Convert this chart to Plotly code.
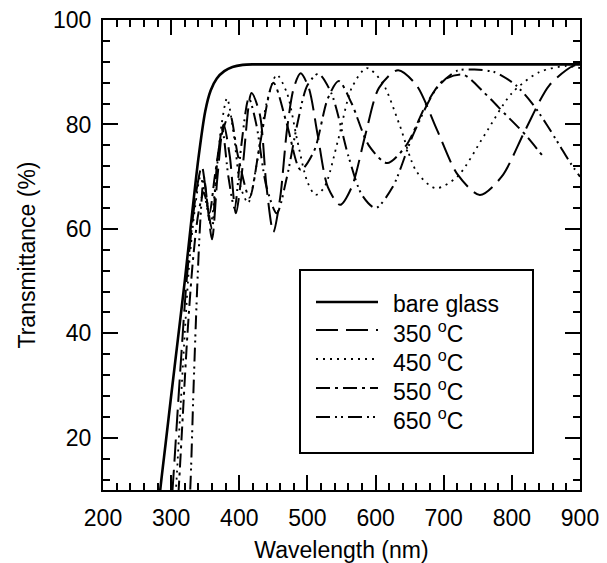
import plotly.graph_objects as go

# Transmittance spectra: bare glass substrate and films annealed at four temperatures
bare_wl = [280, 284, 292, 300, 310, 320, 330, 340, 350, 358, 367, 378, 390, 405, 420, 900]
bare_t = [4, 10, 19, 28, 39, 50, 62, 73.5, 82.5, 86.5, 88.8, 90.2, 91.0, 91.4, 91.5, 91.5]

t350_wl = [298, 302, 308, 315, 322, 330, 338, 345, 352, 360, 368, 377, 386, 395, 405, 418,
           430, 440, 450, 460, 470, 480, 490, 502, 515, 530, 548, 565, 585, 605, 633, 660,
           690, 720, 753, 785, 820, 855, 890, 900]
t350_t = [4, 10, 22, 36, 49, 60, 68, 72, 66, 58, 70, 80, 74, 63, 72, 86,
          82, 68, 59.4, 66, 79, 87, 89.8, 87, 78, 68, 64.6, 68, 78, 87, 90.4, 87.5,
          79, 70.5, 66.5, 70, 79, 87.5, 91.2, 91.4]

t450_wl = [303, 307, 313, 320, 327, 335, 343, 350, 358, 366, 374, 382, 392, 402, 413, 425,
           440, 455, 470, 485, 500, 512, 525, 545, 565, 587, 610, 635, 660, 688, 720, 760,
           800, 840, 880, 900]
t450_t = [4, 10, 24, 40, 54, 64, 70, 66, 61, 70, 80, 85, 78, 68, 65, 72,
          84, 89.5, 86, 77, 69, 66.5, 68, 77, 87, 90.8, 88, 80, 71, 67.8, 70, 78,
          86, 90, 91.2, 90.8]

t550_wl = [308, 311, 317, 324, 332, 340, 348, 356, 364, 374, 386, 398, 415, 430, 450, 470,
           490, 510, 530, 546, 565, 590, 617, 645, 675, 700, 729, 760, 790, 820, 845]
t550_t = [4, 10, 24, 40, 54, 63, 67, 63, 70, 78, 82, 74, 66, 76, 88, 80,
          71.3, 75, 85, 88.3, 84, 76, 72.6, 76, 84, 88.5, 89.5, 86, 82, 78, 74]

t650_wl = [325, 328, 333, 338, 343, 348, 354, 360, 367, 375, 384, 393, 403, 414, 425, 440,
           455, 470, 485, 500, 516, 535, 560, 580, 600, 625, 655, 690, 720, 745, 775, 805,
           830, 851, 870, 885, 900]
t650_t = [4, 10, 30, 48, 62, 70, 64, 60, 72, 79, 70, 64, 76, 85, 80, 68,
          63, 70, 80, 87.5, 89.7, 86, 74, 66.5, 64, 68, 78, 87, 90.3, 90.5, 90, 87.6,
          84, 80, 76, 72.8, 70]

labels = ["bare glass", "350 <sup>o</sup>C", "450 <sup>o</sup>C",
          "550 <sup>o</sup>C", "650 <sup>o</sup>C"]
curves = [(bare_wl, bare_t), (t350_wl, t350_t), (t450_wl, t450_t),
          (t550_wl, t550_t), (t650_wl, t650_t)]
dashes = ["solid", "22px,8px", "2px,5px", "14px,5px,3px,5px", "14px,5px,2px,4px,2px,5px"]
widths = [2.6, 2.0, 1.8, 2.0, 2.0]

fig = go.Figure()
for name, (wl, t), dash, w in zip(labels, curves, dashes, widths):
    fig.add_trace(go.Scatter(
        x=wl, y=t, name=name, mode="lines", showlegend=False,
        line=dict(color="black", width=w, dash=dash, shape="spline", smoothing=0.8),
    ))

font_family = "Liberation Sans, Arial, sans-serif"
axis_common = dict(
    showline=True, linecolor="black", linewidth=2, mirror="ticks",
    ticks="inside", ticklen=15, tickwidth=1.5, tickcolor="black",
    showgrid=False, zeroline=False, automargin=False,
    tickfont=dict(family=font_family, size=23, color="black"),
)

fig.update_xaxes(
    range=[200, 900], dtick=100, tick0=200, ticklabelstandoff=6,
    minor=dict(ticks="inside", dtick=20, ticklen=7, tickwidth=1.5, tickcolor="black"),
    title=dict(text="Wavelength (nm)", font=dict(family=font_family, size=23, color="black"),
               standoff=12),
    **axis_common,
)
fig.update_yaxes(
    range=[10, 100], dtick=20, tick0=0, ticklabelstandoff=5,
    minor=dict(ticks="inside", dtick=4, tick0=0, ticklen=7, tickwidth=1.5, tickcolor="black"),
    title=dict(text="Transmittance (%)", font=dict(family=font_family, size=23, color="black"),
               standoff=11),
    **axis_common,
)

# Boxed key inside the plot area (paper coordinates)
plot_l, plot_r, plot_t, plot_b = 103, 580, 20, 490


def px_x(px):
    return (px - plot_l) / (plot_r - plot_l)


def px_y(py):
    return (plot_b - py) / (plot_b - plot_t)


shapes = [dict(type="rect", xref="paper", yref="paper",
               x0=px_x(300), x1=px_x(533), y0=px_y(453), y1=px_y(270),
               line=dict(color="black", width=2), fillcolor="white", layer="above")]
annotations = []
row_y = [302, 330, 359, 388, 417]
for name, dash, w, ry in zip(labels, dashes, widths, row_y):
    shapes.append(dict(type="line", xref="paper", yref="paper",
                       x0=px_x(316), x1=px_x(378), y0=px_y(ry), y1=px_y(ry),
                       line=dict(color="black", width=w, dash=dash), layer="above"))
    annotations.append(dict(xref="paper", yref="paper", x=px_x(391), y=px_y(ry + 2),
                            xanchor="left", yanchor="middle", showarrow=False, text=name,
                            font=dict(family=font_family, size=23, color="black")))

fig.update_layout(
    width=607, height=563,
    margin=dict(l=plot_l, r=607 - plot_r, t=plot_t, b=563 - plot_b),
    paper_bgcolor="white", plot_bgcolor="white",
    font=dict(family=font_family, color="black"),
    shapes=shapes, annotations=annotations,
)

fig.write_html("out.html")
